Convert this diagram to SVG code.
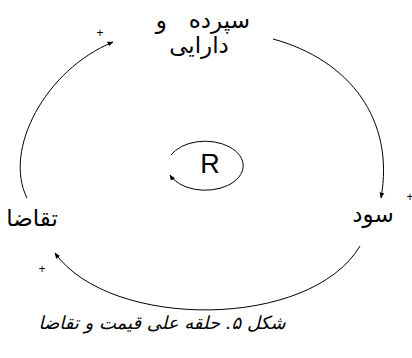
<svg xmlns="http://www.w3.org/2000/svg" width="412" height="358" viewBox="0 0 412 358">
<style>
.lbl{font-family:"DejaVu Sans","Noto Sans",sans-serif;font-size:23px;fill:#000}
.cap{font-family:"DejaVu Sans","Noto Sans",sans-serif;font-size:18px;font-style:italic;fill:#000}
.plus{font-family:"Liberation Sans",sans-serif;font-size:12px;fill:#000}
.link{fill:none;stroke:#000;stroke-width:1}
</style>
<defs>
<marker id="ah" viewBox="0 0 10 10" refX="9" refY="5" markerWidth="6" markerHeight="6" orient="auto" markerUnits="userSpaceOnUse">
<path d="M0,1 L10,5 L0,9 Z" fill="#000"/>
</marker>
</defs>
<rect width="412" height="358" fill="#fff"/>
<g id="connectors">
<path class="link" d="M27,198 C3,150 45,70 113,42" marker-end="url(#ah)"/>
<path class="link" d="M273,39 C350,60 395,120 381,198" marker-end="url(#ah)"/>
<path class="link" d="M360,246 C310,330 110,330 55,253" marker-end="url(#ah)"/>
<path class="link" d="M171,155 A38,24.5 0 1 1 170,175" marker-end="url(#ah)"/>
<text class="plus" x="100" y="37" text-anchor="middle">+</text>
<text class="plus" x="410" y="201" text-anchor="middle">+</text>
<text class="plus" x="42" y="273" text-anchor="middle">+</text>
</g>
<g id="node-assets">
<text class="lbl" x="250" y="28" text-anchor="start" xml:space="preserve" direction="rtl">سپرده   و</text>
<text class="lbl" x="199" y="53" text-anchor="middle">دارایی</text>
</g>
<g id="node-profit">
<text class="lbl" x="373" y="222" text-anchor="middle">سود</text>
</g>
<g id="node-demand">
<text class="lbl" x="32" y="226" text-anchor="middle">تقاضا</text>
</g>
<g id="node-R">
<text x="210" y="173" text-anchor="middle" font-family="Liberation Sans, Arial, sans-serif" font-size="27">R</text>
</g>
<text class="cap" x="162" y="329" text-anchor="middle">شکل ۵. حلقه علی قیمت و تقاضا</text>
</svg>
